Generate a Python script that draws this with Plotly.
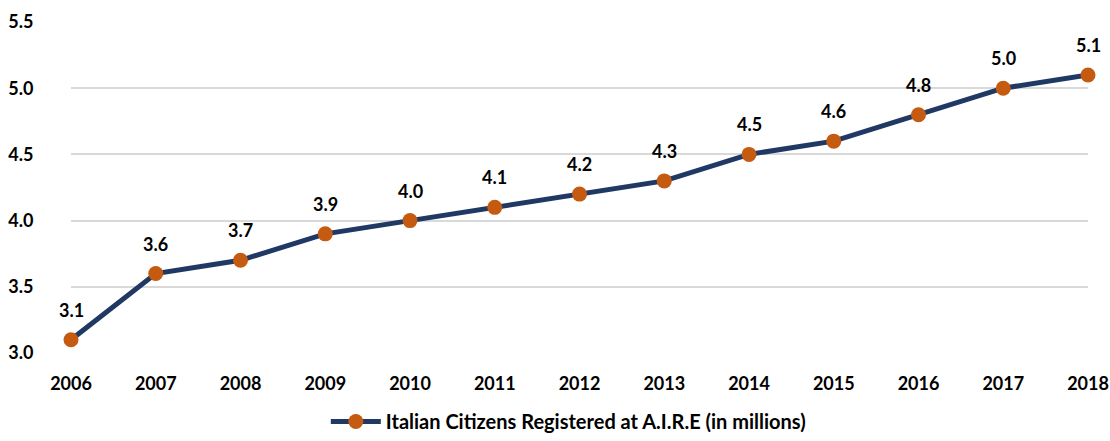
import plotly.graph_objects as go

years = ["2006", "2007", "2008", "2009", "2010", "2011", "2012",
         "2013", "2014", "2015", "2016", "2017", "2018"]
values = [3.1, 3.6, 3.7, 3.9, 4.0, 4.1, 4.2, 4.3, 4.5, 4.6, 4.8, 5.0, 5.1]
series_name = "Italian Citizens Registered at A.I.R.E (in millions)"
y_ticks = [3.0, 3.5, 4.0, 4.5, 5.0, 5.5]

FONT = "Lato"
LINE_COLOR = "#203864"
MARKER_COLOR = "#C55A11"
FS = 18

fig = go.Figure()
fig.add_trace(go.Scatter(
    x=list(range(len(years))), y=values, mode="lines+markers",
    name=f"<b>{series_name}</b>",
    line=dict(color=LINE_COLOR, width=5),
    marker=dict(color=MARKER_COLOR, size=15, line=dict(width=0)),
    cliponaxis=False,
))

for i, v in enumerate(values):
    fig.add_annotation(x=i, y=v, text=f"<b>{v:.1f}</b>", showarrow=False,
                       yshift=30, font=dict(family=FONT, size=FS, color="#000000"))

fig.update_layout(
    width=1110, height=441,
    margin=dict(l=71, r=22, t=22, b=88, autoexpand=False),
    paper_bgcolor="white", plot_bgcolor="white",
    font=dict(family=FONT, size=FS, color="#000000"),
    showlegend=True,
    legend=dict(orientation="h", x=0.489, xanchor="center",
                yref="container", y=-0.018, yanchor="bottom",
                font=dict(family=FONT, size=20, color="#000000"),
                itemwidth=50),
    xaxis=dict(
        range=[0, len(years) - 1],
        tickmode="array", tickvals=list(range(len(years))),
        ticktext=[f"<b>{y}</b>" for y in years],
        showgrid=False, zeroline=False, showline=False,
        ticks="outside", ticklen=14, tickcolor="rgba(0,0,0,0)",
    ),
    yaxis=dict(
        range=[3.0, 5.5],
        tickmode="array", tickvals=y_ticks,
        ticktext=[f"<b>{t:.1f}</b>" for t in y_ticks],
        showgrid=True, gridcolor="#D9D9D9", gridwidth=1.5,
        zeroline=False, showline=False,
        ticks="outside", ticklen=33, tickcolor="rgba(0,0,0,0)",
    ),
)

fig.write_html("out.html", config={"displayModeBar": False},
               post_script="document.body.style.margin='0';document.body.style.overflow='hidden';")
